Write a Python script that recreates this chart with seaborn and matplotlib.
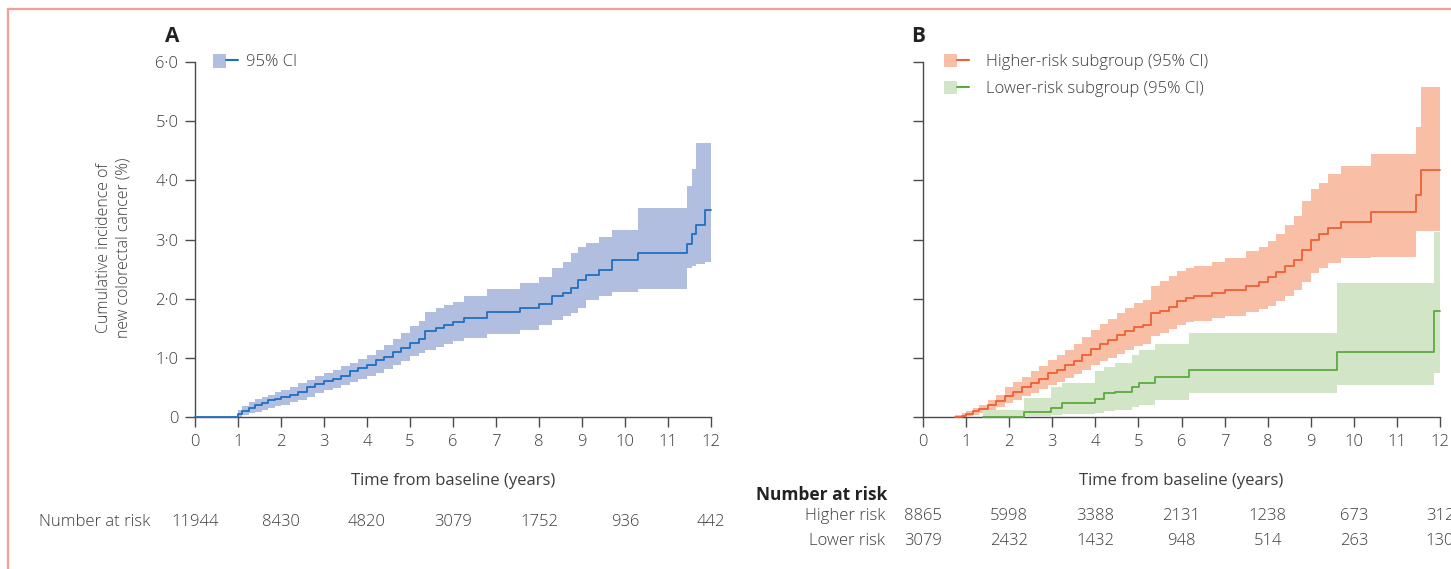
import matplotlib
matplotlib.use("Agg")
import numpy as np
import pandas as pd
import seaborn as sns
import matplotlib.pyplot as plt
from matplotlib.patches import Patch, Rectangle
from matplotlib.lines import Line2D
from matplotlib.legend_handler import HandlerTuple
import matplotlib.transforms as mtransforms

# ---------------- data ----------------
# Panel A: overall cumulative incidence (step curve) with 95% CI
time_a = [0, 1.0, 1.1, 1.25, 1.4, 1.55, 1.7, 1.85, 2.0, 2.2, 2.4, 2.6, 2.8, 3.0, 3.2, 3.4,
          3.6, 3.8, 4.0, 4.2, 4.4, 4.6, 4.8, 5.0, 5.2, 5.35, 5.6, 5.8, 6.0, 6.25, 6.8, 7.55,
          8.0, 8.3, 8.55, 8.75, 8.9, 9.1, 9.4, 9.7, 10.3, 11.45, 11.55, 11.65, 11.85, 12.0]
cum_a = [0, 0.05, 0.10, 0.15, 0.20, 0.24, 0.28, 0.31, 0.34, 0.38, 0.43, 0.50, 0.56, 0.61, 0.65, 0.70,
         0.77, 0.82, 0.88, 0.96, 1.02, 1.10, 1.17, 1.25, 1.32, 1.45, 1.50, 1.56, 1.61, 1.67, 1.77, 1.84,
         1.91, 2.04, 2.10, 2.18, 2.32, 2.40, 2.49, 2.65, 2.78, 2.93, 3.10, 3.25, 3.50, 3.50]
lo_a = [0, 0.00, 0.03, 0.06, 0.09, 0.12, 0.15, 0.18, 0.21, 0.25, 0.29, 0.34, 0.40, 0.45, 0.49, 0.54,
        0.59, 0.64, 0.69, 0.75, 0.81, 0.88, 0.95, 1.03, 1.08, 1.14, 1.18, 1.23, 1.28, 1.33, 1.41, 1.47,
        1.56, 1.64, 1.70, 1.75, 1.85, 1.98, 2.05, 2.12, 2.17, 2.52, 2.55, 2.58, 2.62, 2.62]
hi_a = [0, 0.12, 0.18, 0.25, 0.30, 0.34, 0.38, 0.42, 0.46, 0.51, 0.57, 0.63, 0.69, 0.74, 0.80, 0.86,
        0.92, 0.98, 1.05, 1.13, 1.22, 1.31, 1.42, 1.53, 1.62, 1.78, 1.84, 1.90, 1.95, 2.04, 2.16, 2.27,
        2.37, 2.52, 2.62, 2.77, 2.87, 2.94, 3.05, 3.16, 3.53, 3.90, 4.20, 4.63, 4.63, 4.63]

# Panel B: higher-risk subgroup
time_hi = [0.75, 0.9, 1.0, 1.15, 1.3, 1.5, 1.7, 1.9, 2.1, 2.3, 2.5, 2.7, 2.9, 3.1, 3.3, 3.5, 3.7, 3.9,
           4.1, 4.3, 4.5, 4.7, 4.9, 5.1, 5.3, 5.5, 5.7, 5.9, 6.1, 6.3, 6.7, 7.0, 7.5, 7.8, 8.0, 8.2,
           8.4, 8.6, 8.8, 9.0, 9.2, 9.4, 9.7, 10.4, 11.45, 11.55, 12.0]
cum_hi = [0, 0.02, 0.05, 0.10, 0.14, 0.20, 0.27, 0.36, 0.43, 0.50, 0.58, 0.65, 0.74, 0.80, 0.88, 0.95,
          1.05, 1.15, 1.23, 1.30, 1.38, 1.45, 1.52, 1.56, 1.75, 1.80, 1.86, 1.96, 2.01, 2.04, 2.10, 2.14,
          2.22, 2.28, 2.36, 2.45, 2.56, 2.66, 2.82, 3.00, 3.10, 3.20, 3.30, 3.46, 3.75, 4.18, 4.18]
lo_hi = [0, 0, 0.01, 0.04, 0.07, 0.11, 0.17, 0.24, 0.29, 0.35, 0.41, 0.47, 0.54, 0.59, 0.66, 0.72,
         0.80, 0.88, 0.94, 1.00, 1.07, 1.13, 1.20, 1.23, 1.37, 1.42, 1.48, 1.56, 1.60, 1.62, 1.68, 1.71,
         1.78, 1.82, 1.88, 1.96, 2.05, 2.14, 2.28, 2.44, 2.52, 2.60, 2.68, 2.70, 3.15, 3.15, 3.15]
up_hi = [0.03, 0.06, 0.10, 0.16, 0.21, 0.28, 0.38, 0.50, 0.60, 0.68, 0.78, 0.87, 0.97, 1.05, 1.14, 1.23,
         1.35, 1.47, 1.57, 1.66, 1.76, 1.84, 1.92, 1.98, 2.22, 2.30, 2.38, 2.47, 2.52, 2.56, 2.62, 2.68,
         2.80, 2.88, 2.98, 3.10, 3.25, 3.40, 3.65, 3.85, 3.95, 4.10, 4.25, 4.45, 4.90, 5.58, 5.58]

# Panel B: lower-risk subgroup
time_lo = [1.4, 2.34, 2.97, 3.22, 4.0, 4.2, 4.45, 4.86, 5.02, 5.39, 6.18, 9.6, 11.87, 12.0]
cum_lo = [0, 0.08, 0.15, 0.23, 0.30, 0.40, 0.43, 0.51, 0.58, 0.68, 0.79, 1.10, 1.80, 1.80]
lo_lo = [0, 0.01, 0.03, 0.05, 0.06, 0.10, 0.12, 0.17, 0.20, 0.29, 0.40, 0.54, 0.74, 0.74]
up_lo = [0.12, 0.32, 0.50, 0.58, 0.78, 0.85, 0.92, 1.05, 1.13, 1.24, 1.42, 2.26, 3.13, 3.13]

# Axis ticks and labels
x_ticks = list(range(0, 13))
y_ticks = [0, 1, 2, 3, 4, 5, 6]
y_tick_labels = ["0", "1·0", "2·0", "3·0", "4·0", "5·0", "6·0"]

# Number at risk
risk_times = [0, 2, 4, 6, 8, 10, 12]
risk_all = [11944, 8430, 4820, 3079, 1752, 936, 442]
risk_higher = [8865, 5998, 3388, 2131, 1238, 673, 312]
risk_lower = [3079, 2432, 1432, 948, 514, 263, 130]

# ---------------- style ----------------
sns.set_theme(style="ticks")
plt.rcParams["font.family"] = ["Open Sans", "DejaVu Sans"]
plt.rcParams["font.weight"] = "light"
TXT = "#3c3c3c"
AX = "#4a4a4a"

W, H = 1451, 569
fig = plt.figure(figsize=(W / 100, H / 100), dpi=100)
fig.patch.set_facecolor("white")

axA = fig.add_axes([195 / W, 1 - 417 / H, 516 / W, 355 / H])
axB = fig.add_axes([923 / W, 1 - 417 / H, 517 / W, 355 / H])

BLUE_BAND, BLUE_LINE = "#b1bee0", "#1f6fc0"
OR_BAND, OR_LINE = "#f9bfa6", "#ee5f36"
GR_BAND, GR_LINE = "#d2e5c6", "#5aab3e"


def draw_curve(ax, t, v, lo, hi, band, line):
    ax.fill_between(t, lo, hi, step="post", color=band, lw=0, zorder=1)
    df = pd.DataFrame({"t": t, "v": v})
    sns.lineplot(data=df, x="t", y="v", ax=ax, drawstyle="steps-post", color=line,
                 lw=1.3, estimator=None, sort=False, zorder=4, clip_on=False)


draw_curve(axA, time_a, cum_a, lo_a, hi_a, BLUE_BAND, BLUE_LINE)
draw_curve(axB, time_hi, cum_hi, lo_hi, up_hi, OR_BAND, OR_LINE)
draw_curve(axB, time_lo, cum_lo, lo_lo, up_lo, GR_BAND, GR_LINE)

for ax in (axA, axB):
    ax.set_xlim(0, 12)
    ax.set_ylim(0, 6)
    sns.despine(ax=ax)
    for s in ("left", "bottom"):
        ax.spines[s].set_color(AX)
        ax.spines[s].set_linewidth(1.0)
    ax.set_xticks(x_ticks)
    ax.set_xticklabels([str(x) for x in x_ticks])
    ax.set_yticks(y_ticks)
    ax.tick_params(direction="out", length=7, width=1.0, color=AX, labelcolor=TXT,
                   labelsize=12, pad=5)
    ax.set_xlabel("Time from baseline (years)", fontsize=12, color=TXT, labelpad=17)
    ax.set_ylabel("")
    ax.set_facecolor("none")

axA.set_yticklabels(y_tick_labels)
axB.set_yticklabels([])

fig.text(114 / W, 1 - 248 / H, "Cumulative incidence of\nnew colorectal cancer (%)",
         rotation=90, ha="center", va="center", fontsize=11.5, color=TXT, linespacing=1.25)

fig.text(172 / W, 1 - 37 / H, "A", fontsize=15, weight="bold", ha="center", va="center", color="#222")
fig.text(918 / W, 1 - 37 / H, "B", fontsize=15, weight="bold", ha="center", va="center", color="#222")

# legends
hA = [(Patch(facecolor=BLUE_BAND, edgecolor="none"), Line2D([], [], color=BLUE_LINE, lw=1.5))]
axA.legend(hA, ["95% CI"], handler_map={tuple: HandlerTuple(ndivide=None)},
           loc="center left", bbox_to_anchor=(0.035, 1.0), frameon=False, fontsize=12,
           handlelength=1.5, handleheight=0.9, handletextpad=0.45, borderpad=0, borderaxespad=0,
           labelcolor=TXT)
hB = [(Patch(facecolor=OR_BAND, edgecolor="none"), Line2D([], [], color=OR_LINE, lw=1.5)),
      (Patch(facecolor=GR_BAND, edgecolor="none"), Line2D([], [], color=GR_LINE, lw=1.5))]
axB.legend(hB, ["Higher-risk subgroup (95% CI)", "Lower-risk subgroup (95% CI)"],
           handler_map={tuple: HandlerTuple(ndivide=None)},
           loc="center left", bbox_to_anchor=(0.041, 0.962), frameon=False, fontsize=12,
           handlelength=1.5, handleheight=0.9, handletextpad=1.0, labelspacing=0.62,
           borderpad=0, borderaxespad=0, labelcolor=TXT)

# number at risk
trA = mtransforms.blended_transform_factory(axA.transData, fig.transFigure)
trB = mtransforms.blended_transform_factory(axB.transData, fig.transFigure)
fig.text(150 / W, 1 - 522 / H, "Number at risk", ha="right", va="center", fontsize=12, color=TXT)
for t, n in zip(risk_times, risk_all):
    axA.text(t, 1 - 522 / H, f"{n}", transform=trA, ha="center", va="center", fontsize=12,
             color=TXT, clip_on=False)

fig.text(756 / W, 1 - 495 / H, "Number at risk", ha="left", va="center", fontsize=12.5,
         weight="bold", color="#222")
fig.text(885 / W, 1 - 516 / H, "Higher risk", ha="right", va="center", fontsize=12, color=TXT)
fig.text(885 / W, 1 - 541 / H, "Lower risk", ha="right", va="center", fontsize=12, color=TXT)
for t, n1, n2 in zip(risk_times, risk_higher, risk_lower):
    axB.text(t, 1 - 516 / H, f"{n1}", transform=trB, ha="center", va="center", fontsize=12,
             color=TXT, clip_on=False)
    axB.text(t, 1 - 541 / H, f"{n2}", transform=trB, ha="center", va="center", fontsize=12,
             color=TXT, clip_on=False)

# outer frame (salmon border)
fig.add_artist(Rectangle((8 / W, -0.2), 1.2, 1.2 - 9 / H, transform=fig.transFigure,
                         fill=False, edgecolor="#f0a197", lw=1.6, clip_on=False))

fig.savefig("out.png", dpi=100, facecolor="white")
